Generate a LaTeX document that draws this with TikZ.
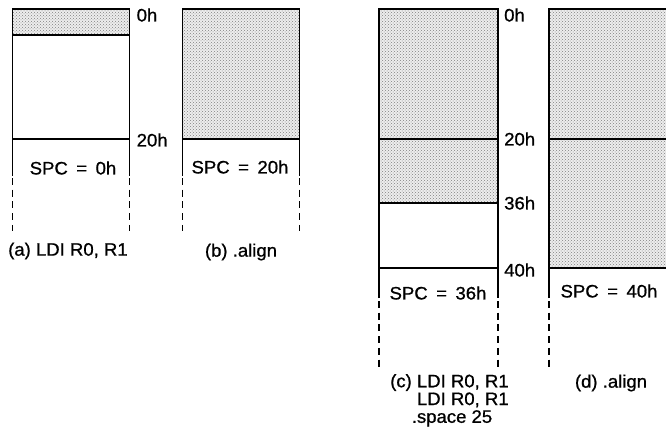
\documentclass[tikz,border=0pt]{standalone}
\usepackage{fontspec}
\setmainfont{Liberation Sans}[FakeStretch=1.03, FakeBold=0.9]
\usetikzlibrary{patterns}
\tikzset{
  boxline/.style={line width=1.1pt, black},
  shadefill/.style={fill=gray!14},
  dotfill/.style={pattern=crosshatch dots, pattern color=black!50},
  dashside/.style={line width=1.3pt, black, dash pattern=on 7pt off 4.7pt},
  lbl/.style={font=\fontsize{18}{14.5}\selectfont, inner sep=0pt, black},
}
\newcommand\eqgap{\hspace{8.5pt}}
\begin{document}
\begin{tikzpicture}[x=1pt,y=-1pt]
\useasboundingbox (0,0) rectangle (666,434);
\clip (0,0) rectangle (666,434);

% ---------- (a)
\fill[shadefill] (12.5,9) rectangle (129.5,35);
\fill[dotfill] (12.5,9) rectangle (129.5,35);
\draw[boxline] (12.5,176) -- (12.5,9) -- (129.5,9) -- (129.5,176);
\draw[boxline] (12.5,35) -- (129.5,35);
\draw[boxline] (12.5,139) -- (129.5,139);
\draw[dashside] (12.5,178) -- (12.5,231);
\draw[dashside] (129.5,178) -- (129.5,231);
\node[lbl, anchor=west] (a0) at (136.5,15) {0h};
\node[lbl, anchor=west] (a20) at (136.5,140) {20h};
\node[lbl] (aspc) at (73,168) {SPC\eqgap=\eqgap0h};
\node[lbl, anchor=west] (acap) at (8,251) {(a) LDI R0, R1};

% ---------- (b)
\fill[shadefill] (182.7,9) rectangle (299.5,139);
\fill[dotfill] (182.7,9) rectangle (299.5,139);
\draw[boxline] (182.7,176) -- (182.7,9) -- (299.5,9) -- (299.5,176);
\draw[boxline] (182.7,139) -- (299.5,139);
\draw[dashside] (182.7,178) -- (182.7,231);
\draw[dashside] (299.5,178) -- (299.5,231);
\node[lbl] (bspc) at (240,167) {SPC\eqgap=\eqgap20h};
\node[lbl] (bcap) at (241,252) {(b) .align};

% ---------- (c)
\fill[shadefill] (379,9) rectangle (498,203);
\fill[dotfill] (379,9) rectangle (498,203);
\draw[boxline] (379,298) -- (379,9) -- (498,9) -- (498,298);
\draw[boxline] (379,139) -- (498,139);
\draw[boxline] (379,203) -- (498,203);
\draw[boxline] (379,268) -- (498,268);
\draw[dashside] (379,301) -- (379,368);
\draw[dashside] (498,301) -- (498,368);
\node[lbl, anchor=west] (c0) at (504,15) {0h};
\node[lbl, anchor=west] (c20) at (504,139) {20h};
\node[lbl, anchor=west] (c36) at (504,203) {36h};
\node[lbl, anchor=west] (c40) at (504,270) {40h};
\node[lbl] (cspc) at (438,293) {SPC\eqgap=\eqgap36h};
\node[lbl, anchor=north west, align=left] (ccap) at (390,374)
  {(c) LDI R0, R1\\\phantom{(c) }LDI R0, R1\\\phantom{(c)}.space 25};

% ---------- (d)
\fill[shadefill] (549,9) rectangle (668,268);
\fill[dotfill] (549,9) rectangle (668,268);
\draw[boxline] (549,298) -- (549,9) -- (668,9);
\draw[boxline] (549,139) -- (668,139);
\draw[boxline] (549,268) -- (668,268);
\draw[dashside] (549,301) -- (549,370);
\node[lbl] (dspc) at (609,291) {SPC\eqgap=\eqgap40h};
\node[lbl] (dcap) at (611,383) {(d) .align};
\end{tikzpicture}
\end{document}
